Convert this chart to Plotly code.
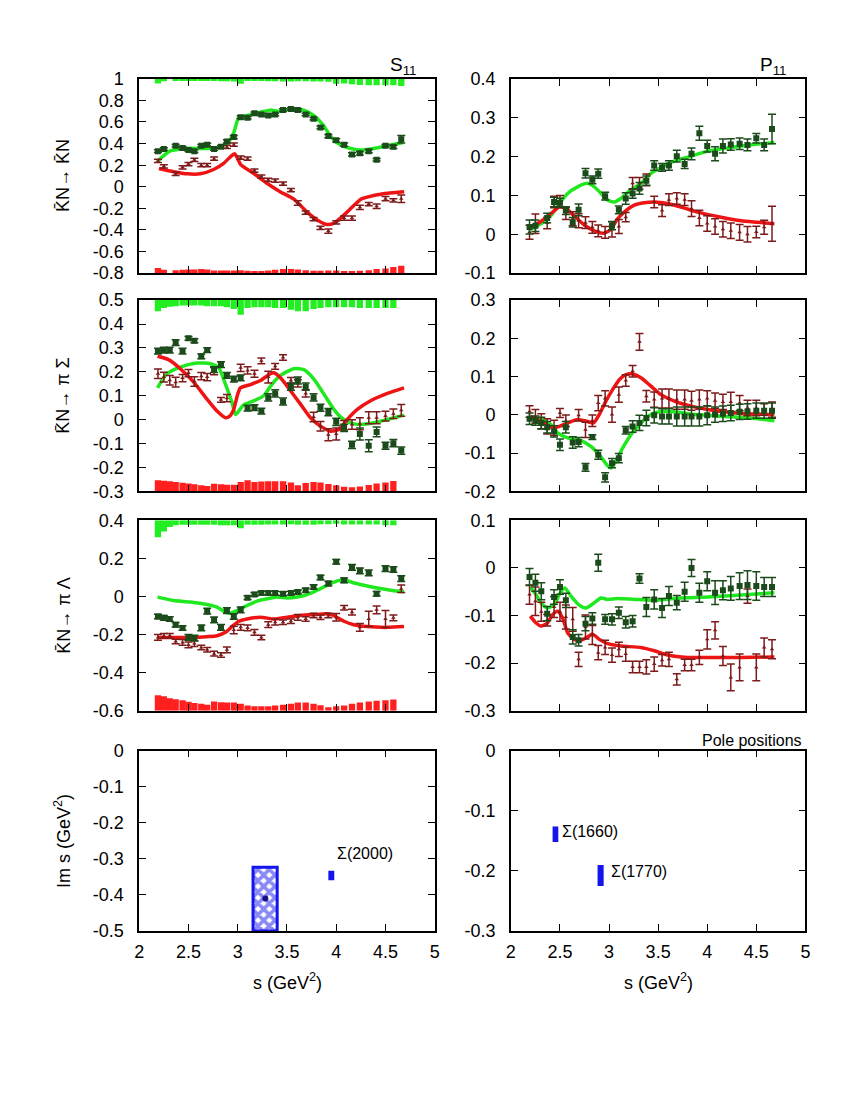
import plotly.graph_objects as go

W, H = 850, 1100

# ---------------- data ----------------
S = [2.19, 2.25, 2.31, 2.37, 2.44, 2.50, 2.56, 2.63, 2.69, 2.76, 2.83, 2.89, 2.96, 3.03, 3.10, 3.17, 3.24, 3.31,
     3.38, 3.46, 3.54, 3.61, 3.69, 3.77, 3.84, 3.92, 4.00, 4.08, 4.16, 4.24, 4.33, 4.41, 4.50, 4.58, 4.66]

# Row 1 left: KN -> KN, S11
L1_re = [0.33, 0.35, None, 0.38, 0.36, 0.34, 0.33, 0.38, 0.39, 0.35, 0.37, 0.42, 0.46, 0.645, 0.64, 0.68, 0.67, 0.66,
         0.67, 0.71, 0.72, 0.71, 0.67, 0.63, 0.55, 0.47, 0.43, 0.39, 0.30, 0.31, 0.33, 0.25, 0.38, 0.37, 0.44]
L1_re_err = [0.012, 0.012, 0, 0.012, 0.012, 0.012, 0.012, 0.012, 0.012, 0.012, 0.012, 0.015, 0.015, 0.012, 0.012,
             0.012, 0.012, 0.012, 0.012, 0.012, 0.012, 0.012, 0.012, 0.012, 0.012, 0.015, 0.015, 0.015, 0.015, 0.015,
             0.015, 0.012, 0.012, 0.015, 0.035]
L1_im = [0.24, 0.19, None, 0.12, 0.18, 0.21, 0.25, 0.20, 0.20, 0.26, None, 0.37, 0.39, 0.27, 0.26, 0.15, 0.095, 0.064,
         0.058, 0.03, -0.03, -0.15, -0.24, -0.30, -0.38, -0.41, -0.33, -0.29, -0.29, -0.19, -0.16, -0.18, -0.11,
         -0.125, -0.11]
L1_im_err = [0.015, 0.015, 0, 0.015, 0.015, 0.015, 0.015, 0.015, 0.015, 0.015, 0, 0.015, 0.015, 0.015, 0.015, 0.015,
             0.015, 0.015, 0.015, 0.015, 0.015, 0.02, 0.015, 0.015, 0.015, 0.02, 0.015, 0.02, 0.02, 0.02, 0.015, 0.02,
             0.02, 0.015, 0.035]
L1_fit_re_x = [2.19, 2.31, 2.48, 2.69, 2.82, 2.91, 2.96, 3.01, 3.10, 3.23, 3.33, 3.43, 3.54, 3.67, 3.77, 3.87, 3.94,
               4.04, 4.15, 4.25, 4.38, 4.52, 4.68]
L1_fit_re_y = [0.24, 0.33, 0.355, 0.355, 0.37, 0.42, 0.50, 0.64, 0.66, 0.69, 0.71, 0.70, 0.72, 0.71, 0.66, 0.57, 0.47,
               0.39, 0.355, 0.34, 0.355, 0.38, 0.41]
L1_fit_im_x = [2.20, 2.35, 2.485, 2.62, 2.755, 2.86, 2.94, 2.97, 3.01, 3.03, 3.16, 3.30, 3.43, 3.57, 3.705, 3.81,
               3.91, 3.98, 4.11, 4.25, 4.38, 4.52, 4.69]
L1_fit_im_y = [0.17, 0.14, 0.12, 0.12, 0.16, 0.22, 0.29, 0.305, 0.24, 0.205, 0.125, 0.03, -0.045, -0.115, -0.235,
               -0.31, -0.35, -0.335, -0.235, -0.115, -0.08, -0.06, -0.045]
L1_bar_top = [0.044, 0.022, None, 0.02, 0.02, 0.02, 0.02, 0.02, 0.02, 0.02, 0.022, 0.022, 0.025, 0.045, 0.02, 0.02,
              0.02, 0.022, 0.022, 0.025, 0.025, 0.022, 0.022, 0.025, 0.025, 0.028, 0.045, 0.044, 0.05, 0.057, 0.06,
              0.06, 0.06, 0.06, 0.066]
L1_bar_bot = [0.047, 0.031, None, 0.028, 0.031, 0.035, 0.035, 0.038, 0.035, 0.025, 0.025, 0.025, 0.025, 0.028,
              0.022, 0.019, 0.019, 0.025, 0.031, 0.038, 0.038, 0.035, 0.028, 0.022, 0.022, 0.025, 0.025, 0.019, 0.019,
              0.022, 0.028, 0.038, 0.044, 0.057, 0.069]

# Row 1 right: KN -> KN, P11
R1_re = [0.019, 0.022, None, 0.042, 0.083, 0.081, 0.061, 0.031, 0.063, 0.157, 0.14, 0.156, 0.098, 0.022, 0.063, 0.092,
         0.105, 0.118, 0.138, 0.177, 0.172, 0.177, 0.201, 0.181, 0.207, 0.26, 0.227, 0.207, 0.227, 0.231, 0.233, 0.23,
         0.247, 0.23, 0.271]
R1_re_err = [0.018, 0.015, 0, 0.012, 0.012, 0.012, 0.01, 0.012, 0.015, 0.012, 0.01, 0.012, 0.01, 0.01, 0.01, 0.015,
             0.012, 0.015, 0.012, 0.012, 0.01, 0.012, 0.015, 0.012, 0.015, 0.018, 0.015, 0.018, 0.018, 0.015, 0.015,
             0.015, 0.012, 0.015, 0.038]
R1_im = [0.005, 0.027, None, 0.029, 0.083, 0.085, 0.053, 0.04, 0.035, 0.03, 0.018, 0.009, 0.005, 0.013, 0.02, 0.044,
         0.131, 0.131, 0.14, 0.083, 0.061, 0.089, 0.092, 0.089, 0.066, 0.042, 0.028, 0.02, 0.013, 0.009, 0.005, 0.0,
         0.006, 0.018, 0.027]
R1_im_err = [0.018, 0.025, 0, 0.015, 0.015, 0.015, 0.015, 0.018, 0.018, 0.015, 0.015, 0.015, 0.015, 0.02, 0.018,
             0.012, 0.015, 0.015, 0.015, 0.015, 0.015, 0.015, 0.015, 0.015, 0.02, 0.02, 0.02, 0.02, 0.02, 0.02, 0.02,
             0.02, 0.015, 0.018, 0.045]
R1_fit_re_x = [2.197, 2.306, 2.408, 2.493, 2.578, 2.68, 2.78, 2.85, 2.92, 2.985, 3.053, 3.12, 3.22, 3.325, 3.427,
               3.53, 3.665, 3.835, 4.005, 4.175, 4.345, 4.514, 4.684]
R1_fit_re_y = [0.013, 0.027, 0.048, 0.079, 0.105, 0.122, 0.131, 0.122, 0.105, 0.088, 0.083, 0.092, 0.114, 0.131,
               0.157, 0.172, 0.188, 0.201, 0.214, 0.221, 0.227, 0.232, 0.236]
R1_fit_im_x = [2.197, 2.306, 2.408, 2.493, 2.561, 2.646, 2.748, 2.85, 2.951, 3.019, 3.087, 3.172, 3.257, 3.359,
               3.461, 3.597, 3.733, 3.937, 4.141, 4.345, 4.514, 4.684]
R1_fit_im_y = [0.018, 0.033, 0.053, 0.07, 0.066, 0.047, 0.024, 0.009, 0.003, 0.013, 0.04, 0.061, 0.075, 0.081,
               0.083, 0.079, 0.07, 0.055, 0.044, 0.035, 0.031, 0.027]

# Row 2 left: KN -> pi Sigma, S11
L2_re = [0.287, 0.291, 0.291, 0.322, 0.287, 0.34, 0.33, 0.265, 0.291, 0.209, 0.23, 0.185, 0.17, 0.175, 0.048, 0.05,
         0.036, 0.093, 0.11, 0.076, 0.138, 0.164, 0.138, 0.093, 0.05, 0.032, -0.009, -0.034, -0.105, -0.06, -0.109,
         -0.051, -0.109, -0.098, -0.129]
L2_re_err = [0.012, 0.012, 0.012, 0.012, 0.012, 0.008, 0.008, 0.01, 0.01, 0.012, 0.012, 0.012, 0.012, 0.012, 0.012,
             0.012, 0.012, 0.015, 0.015, 0.015, 0.015, 0.015, 0.015, 0.015, 0.015, 0.015, 0.015, 0.015, 0.015, 0.025,
             0.025, 0.02, 0.015, 0.015, 0.015]
L2_im = [0.192, 0.178, 0.165, 0.157, 0.174, 0.195, 0.16, 0.182, 0.178, 0.203, 0.083, 0.09, None, 0.217, 0.206, 0.192,
         0.246, 0.178, 0.223, 0.26, 0.164, 0.152, 0.11, 0.011, -0.027, -0.063, -0.06, -0.023, -0.02, -0.017, 0.008,
         0.008, 0.015, 0.025, 0.039]
L2_im_err = [0.02, 0.02, 0.02, 0.02, 0.015, 0.015, 0.02, 0.015, 0.015, 0.015, 0.01, 0.015, 0, 0.015, 0.015, 0.015,
             0.012, 0.025, 0.012, 0.012, 0.012, 0.015, 0.015, 0.02, 0.02, 0.025, 0.025, 0.02, 0.02, 0.025, 0.025,
             0.025, 0.02, 0.02, 0.025]
L2_fit_re_x = [2.186, 2.28, 2.417, 2.586, 2.722, 2.807, 2.875, 2.942, 2.976, 3.01, 3.06, 3.163, 3.264, 3.349, 3.434,
               3.569, 3.671, 3.773, 3.875, 3.976, 4.061, 4.146, 4.247, 4.383, 4.519, 4.688]
L2_fit_re_y = [0.133, 0.192, 0.22, 0.237, 0.234, 0.217, 0.149, 0.072, 0.022, 0.036, 0.062, 0.079, 0.1, 0.149, 0.185,
               0.213, 0.209, 0.17, 0.107, 0.043, 0.005, -0.013, -0.02, -0.013, 0.001, 0.019]
L2_fit_im_x = [2.186, 2.298, 2.417, 2.553, 2.688, 2.79, 2.875, 2.919, 2.959, 3.0, 3.027, 3.129, 3.231, 3.332, 3.366,
               3.434, 3.536, 3.637, 3.739, 3.841, 3.942, 4.027, 4.112, 4.214, 4.349, 4.519, 4.688]
L2_fit_im_y = [0.265, 0.251, 0.213, 0.157, 0.086, 0.036, 0.008, 0.015, 0.043, 0.107, 0.133, 0.147, 0.164, 0.192,
               0.196, 0.175, 0.121, 0.065, 0.008, -0.027, -0.048, -0.041, 0.001, 0.043, 0.079, 0.11, 0.133]
L2_bar_top = [0.047, 0.033, 0.028, 0.026, 0.023, 0.023, 0.023, 0.023, 0.026, 0.026, 0.026, 0.03, 0.037, 0.061, 0.033,
              0.03, 0.03, 0.03, 0.033, 0.033, 0.04, 0.047, 0.047, 0.037, 0.033, 0.03, 0.03, 0.03, 0.03, 0.033, 0.033,
              0.033, 0.033, 0.033, None]
L2_bar_bot = [0.047, 0.045, 0.043, 0.040, 0.036, 0.033, 0.030, 0.026, 0.023, 0.032, 0.030, 0.028, 0.028, 0.040,
              0.047, 0.040, 0.042, 0.043, 0.043, 0.043, 0.038, 0.026, 0.035, 0.040, 0.037, 0.031, 0.026, 0.020, 0.018,
              0.021, 0.027, 0.033, 0.038, 0.044, None]

# Row 2 right: KN -> pi Sigma, P11
R2_re = [-0.01, -0.015, -0.021, -0.032, -0.043, -0.078, -0.032, -0.072, -0.071, -0.137, -0.058, -0.104, -0.163,
         -0.126, -0.113, -0.04, -0.03, -0.021, -0.008, -0.001, -0.004, -0.004, -0.004, -0.004, -0.004, -0.004,
         -0.001, 0.001, 0.003, 0.005, 0.008, 0.009, 0.011, 0.011, 0.011]
R2_re_err = [0.015, 0.012, 0.015, 0.015, 0.015, 0.015, 0.015, 0.015, 0.012, 0.01, 0.006, 0.012, 0.012, 0.012, 0.012,
             0.01, 0.015, 0.02, 0.02, 0.02, 0.02, 0.02, 0.025, 0.025, 0.025, 0.025, 0.025, 0.02, 0.02, 0.02, 0.02,
             0.02, 0.02, 0.02, 0.02]
R2_im = [0.009, -0.004, -0.017, -0.03, -0.034, 0.005, -0.015, None, -0.001, -0.039, -0.015, 0.031, 0.043, 0.001,
         0.053, 0.09, 0.114, 0.191, 0.049, 0.04, 0.043, 0.043, 0.04, 0.04, 0.037, 0.04, 0.043, 0.037, 0.034, 0.034,
         0.031, 0.018, 0.018, 0.014, 0.014]
R2_im_err = [0.015, 0.018, 0.02, 0.02, 0.02, 0.012, 0.015, 0, 0.015, 0.02, 0.015, 0.02, 0.02, 0.02, 0.02, 0.015,
             0.015, 0.022, 0.015, 0.02, 0.025, 0.025, 0.025, 0.025, 0.025, 0.025, 0.02, 0.02, 0.02, 0.025, 0.02,
             0.02, 0.02, 0.015, 0.02]
R2_fit_re_x = [2.197, 2.306, 2.408, 2.476, 2.578, 2.714, 2.815, 2.9, 2.985, 3.019, 3.07, 3.138, 3.223, 3.325, 3.427,
               3.529, 3.665, 3.835, 4.005, 4.175, 4.345, 4.514, 4.684]
R2_fit_re_y = [-0.008, -0.012, -0.025, -0.047, -0.06, -0.067, -0.082, -0.104, -0.133, -0.139, -0.121, -0.087,
               -0.052, -0.021, 0.001, 0.009, 0.008, 0.002, -0.001, -0.004, -0.006, -0.01, -0.015]
R2_fit_im_x = [2.197, 2.306, 2.425, 2.493, 2.578, 2.68, 2.78, 2.843, 2.9, 2.968, 3.036, 3.104, 3.172, 3.24, 3.325,
               3.427, 3.529, 3.665, 3.835, 4.005, 4.175, 4.345, 4.684]
R2_fit_im_y = [-0.004, -0.017, -0.034, -0.03, -0.021, -0.012, -0.017, -0.021, 0.001, 0.036, 0.066, 0.092, 0.105,
               0.107, 0.097, 0.075, 0.053, 0.036, 0.023, 0.014, 0.008, 0.004, 0.001]

# Row 3 left: KN -> pi Lambda, S11
L3_re = [-0.105, -0.112, -0.118, -0.148, -0.165, -0.215, -0.218, -0.165, -0.077, -0.123, -0.162, -0.074, -0.105,
         -0.07, -0.006, 0.011, 0.018, 0.018, 0.018, 0.015, 0.018, 0.024, 0.033, 0.05, 0.1, 0.068, 0.183, 0.085, 0.153,
         0.135, 0.124, 0.015, 0.147, 0.142, 0.094]
L3_re_err = [0.012, 0.012, 0.012, 0.012, 0.012, 0.015, 0.015, 0.015, 0.015, 0.015, 0.015, 0.015, 0.015, 0.015, 0.01,
             0.01, 0.01, 0.01, 0.01, 0.01, 0.01, 0.01, 0.01, 0.012, 0.012, 0.012, 0.012, 0.012, 0.015, 0.015, 0.015,
             0.012, 0.015, 0.015, 0.015]
L3_im = [-0.215, -0.206, -0.206, -0.236, -0.241, -0.254, -0.247, -0.268, -0.28, -0.3, -0.307, -0.28, -0.176, -0.162,
         -0.165, -0.188, -0.215, -0.148, -0.135, -0.135, -0.13, -0.109, -0.118, -0.1, -0.109, -0.1, -0.109, -0.059,
         -0.082, -0.162, -0.118, -0.07, -0.118, -0.112, 0.041]
L3_im_err = [0.015, 0.012, 0.012, 0.012, 0.015, 0.015, 0.015, 0.012, 0.012, 0.012, 0.012, 0.015, 0.02, 0.015, 0.015,
             0.015, 0.012, 0.015, 0.015, 0.012, 0.012, 0.015, 0.012, 0.012, 0.012, 0.012, 0.02, 0.012, 0.015, 0.02,
             0.04, 0.02, 0.045, 0.015, 0.02]
L3_fit_re_x = [2.186, 2.349, 2.519, 2.688, 2.79, 2.875, 2.925, 2.993, 3.095, 3.197, 3.298, 3.4, 3.502, 3.603, 3.705,
               3.807, 3.908, 4.01, 4.095, 4.18, 4.281, 4.417, 4.553, 4.688]
L3_fit_re_y = [-0.003, -0.021, -0.029, -0.042, -0.056, -0.082, -0.088, -0.074, -0.047, -0.024, -0.012, -0.003,
               -0.008, -0.003, 0.010, 0.033, 0.059, 0.082, 0.086, 0.071, 0.059, 0.045, 0.033, 0.024]
L3_fit_im_x = [2.186, 2.349, 2.519, 2.688, 2.79, 2.875, 2.942, 3.01, 3.095, 3.231, 3.366, 3.502, 3.637, 3.773, 3.908,
               3.976, 4.078, 4.18, 4.315, 4.519, 4.688]
L3_fit_im_y = [-0.215, -0.215, -0.215, -0.211, -0.206, -0.188, -0.158, -0.13, -0.118, -0.109, -0.118, -0.109, -0.1,
               -0.095, -0.091, -0.1, -0.13, -0.148, -0.158, -0.162, -0.158]
L3_bar_top = [0.089, 0.058, 0.035, 0.025, 0.023, 0.023, 0.023, 0.023, 0.023, 0.023, 0.025, 0.025, 0.025, 0.041,
              0.023, 0.023, 0.023, 0.022, 0.022, 0.022, 0.02, 0.023, 0.023, 0.023, 0.02, 0.02, 0.018, 0.022, 0.022,
              0.022, 0.022, 0.022, 0.025, 0.025, None]
L3_bar_bot = [0.081, 0.076, 0.066, 0.061, 0.055, 0.047, 0.041, 0.037, 0.032, 0.049, 0.045, 0.044, 0.043, 0.037,
              0.027, 0.024, 0.023, 0.024, 0.027, 0.032, 0.037, 0.044, 0.044, 0.037, 0.029, 0.019, 0.023, 0.028, 0.037,
              0.044, 0.049, 0.053, 0.055, 0.059, None]

# Row 3 right: KN -> pi Lambda, P11
R3_re = [-0.019, -0.031, -0.049, -0.096, -0.061, -0.04, -0.068, -0.145, -0.152, -0.117, -0.106, 0.011, -0.108,
         -0.108, -0.094, -0.114, -0.112, -0.022, -0.082, -0.066, -0.084, -0.059, -0.073, -0.05, 0.0, -0.052, -0.028,
         -0.052, -0.047, -0.043, -0.038, -0.036, -0.038, -0.04, -0.04]
R3_re_err = [0.018, 0.018, 0.018, 0.015, 0.015, 0.015, 0.015, 0.015, 0.012, 0.015, 0.012, 0.018, 0.01, 0.012, 0.012,
             0.012, 0.012, 0.01, 0.02, 0.02, 0.02, 0.02, 0.015, 0.02, 0.018, 0.02, 0.02, 0.025, 0.02, 0.025, 0.028,
             0.03, 0.03, 0.02, 0.02]
R3_im = [-0.056, -0.07, -0.092, -0.11, -0.082, -0.092, -0.103, -0.108, -0.192, -0.124, -0.141, -0.178, -0.167,
         -0.183, -0.171, -0.181, -0.208, -0.208, -0.208, -0.202, -0.194, -0.192, -0.234, -0.204, -0.204, -0.188,
         -0.15, -0.131, -0.185, -0.23, -0.209, -0.059, -0.209, -0.167, -0.171]
R3_im_err = [0.02, 0.03, 0.02, 0.012, 0.022, 0.02, 0.025, 0.025, 0.015, 0.025, 0.02, 0.015, 0.015, 0.015, 0.015,
             0.015, 0.012, 0.012, 0.015, 0.015, 0.012, 0.015, 0.012, 0.012, 0.012, 0.015, 0.02, 0.018, 0.02, 0.028,
             0.028, 0.015, 0.028, 0.02, 0.02]
R3_fit_re_x = [2.197, 2.255, 2.306, 2.374, 2.442, 2.503, 2.55, 2.612, 2.697, 2.765, 2.85, 2.917, 2.985, 3.087, 3.257,
               3.461, 3.665, 4.005, 4.345, 4.684]
R3_fit_re_y = [-0.04, -0.056, -0.073, -0.084, -0.077, -0.052, -0.042, -0.059, -0.078, -0.084, -0.073, -0.063,
               -0.066, -0.064, -0.066, -0.068, -0.064, -0.061, -0.057, -0.052]
R3_fit_im_x = [2.197, 2.255, 2.306, 2.367, 2.425, 2.476, 2.527, 2.578, 2.646, 2.714, 2.782, 2.832, 2.9, 2.985, 3.121,
               3.325, 3.461, 3.597, 3.801, 4.005, 4.345, 4.684]
R3_fit_im_y = [-0.101, -0.115, -0.122, -0.117, -0.098, -0.091, -0.105, -0.136, -0.15, -0.152, -0.145, -0.139, -0.15,
               -0.159, -0.164, -0.167, -0.174, -0.183, -0.188, -0.188, -0.188, -0.187]

# Row 4: pole positions (Re s, Im s ranges)
POLE_L_HATCH_RE = [3.278]
POLE_L_HATCH_W = [0.245]
POLE_L_HATCH_LO = [-0.5]
POLE_L_HATCH_HI = [-0.323]
POLE_L_DOT_RE = [3.28]
POLE_L_DOT_IM = [-0.41]
POLE_L_BOX_RE = [3.95]
POLE_L_BOX_W = [0.06]
POLE_L_BOX_LO = [-0.359]
POLE_L_BOX_HI = [-0.333]
POLE_L_LABELS = ["Σ(2000)"]
POLE_L_LABEL_X = [3.99]
POLE_L_LABEL_Y = [-0.284]

POLE_R_BOX_RE = [2.454, 2.914]
POLE_R_BOX_W = [0.058, 0.062]
POLE_R_BOX_LO = [-0.152, -0.225]
POLE_R_BOX_HI = [-0.126, -0.19]
POLE_R_LABELS = ["Σ(1660)", "Σ(1770)"]
POLE_R_LABEL_X = [2.5, 3.0]
POLE_R_LABEL_Y = [-0.134, -0.201]

X_TICKS = [2, 2.5, 3, 3.5, 4, 4.5, 5]
Y_TICKS = {
    1: [-0.8, -0.6, -0.4, -0.2, 0, 0.2, 0.4, 0.6, 0.8, 1],
    2: [-0.1, 0, 0.1, 0.2, 0.3, 0.4],
    3: [-0.3, -0.2, -0.1, 0, 0.1, 0.2, 0.3, 0.4, 0.5],
    4: [-0.2, -0.1, 0, 0.1, 0.2, 0.3],
    5: [-0.6, -0.4, -0.2, 0, 0.2, 0.4],
    6: [-0.3, -0.2, -0.1, 0, 0.1],
    7: [-0.5, -0.4, -0.3, -0.2, -0.1, 0],
    8: [-0.3, -0.2, -0.1, 0],
}
Y_RANGES = {1: [-0.8, 1], 2: [-0.1, 0.4], 3: [-0.3, 0.5], 4: [-0.2, 0.3],
            5: [-0.6, 0.4], 6: [-0.3, 0.1], 7: [-0.5, 0], 8: [-0.3, 0]}

ROW_TITLES = ["K\u0304N\u2192 K\u0304N", "K\u0304N\u2192 π Σ", "K\u0304N\u2192 π Λ", "Im s (GeV<sup>2</sup>)"]

# ---------------- style ----------------
FONT = "Liberation Sans, Arial, Helvetica, sans-serif"
C_GREEN_LINE = "#1fe81f"
C_RED_LINE = "#ee1414"
C_GREEN_BAR = "#22ee22"
C_RED_BAR = "#ff1f1f"
C_GREEN_PT = "#1b4a1b"
C_RED_PT = "#7d1a1a"
C_BLUE = "#1414ee"


# target pixel (as seen in the photographed page) -> paper fraction
def px_x(p):
    return ((p - 13.0) / 0.9865) / W


def px_y(p):
    return 1 - ((p - 14.0) / 0.985) / H


XDOM = {"L": [px_x(139), px_x(434)], "R": [px_x(510), px_x(804)]}
ROWPX = [(75, 270), (297, 489), (518, 709), (749, 930)]
YDOM = [[px_y(b), px_y(t)] for (t, b) in ROWPX]

fig = go.Figure()


def ax(i):
    return ("x" if i == 1 else f"x{i}"), ("y" if i == 1 else f"y{i}")


panels = [
    (1, L1_re, L1_re_err, L1_im, L1_im_err, (L1_fit_re_x, L1_fit_re_y), (L1_fit_im_x, L1_fit_im_y),
     L1_bar_top, L1_bar_bot),
    (2, R1_re, R1_re_err, R1_im, R1_im_err, (R1_fit_re_x, R1_fit_re_y), (R1_fit_im_x, R1_fit_im_y), None, None),
    (3, L2_re, L2_re_err, L2_im, L2_im_err, (L2_fit_re_x, L2_fit_re_y), (L2_fit_im_x, L2_fit_im_y),
     L2_bar_top, L2_bar_bot),
    (4, R2_re, R2_re_err, R2_im, R2_im_err, (R2_fit_re_x, R2_fit_re_y), (R2_fit_im_x, R2_fit_im_y), None, None),
    (5, L3_re, L3_re_err, L3_im, L3_im_err, (L3_fit_re_x, L3_fit_re_y), (L3_fit_im_x, L3_fit_im_y),
     L3_bar_top, L3_bar_bot),
    (6, R3_re, R3_re_err, R3_im, R3_im_err, (R3_fit_re_x, R3_fit_re_y), (R3_fit_im_x, R3_fit_im_y), None, None),
]

for (i, re, re_err, im, im_err, fre, fim, btop, bbot) in panels:
    xa, ya = ax(i)
    lo, hi = Y_RANGES[i]
    if btop is not None:
        fig.add_trace(go.Bar(x=S, y=[(-v if v is not None else None) for v in btop], base=hi, width=0.064,
                             marker=dict(color=C_GREEN_BAR, line=dict(width=0)), xaxis=xa, yaxis=ya))
        fig.add_trace(go.Bar(x=S, y=bbot, base=lo, width=0.064,
                             marker=dict(color=C_RED_BAR, line=dict(width=0)), xaxis=xa, yaxis=ya))
    fig.add_trace(go.Scatter(x=fre[0], y=fre[1], mode="lines", line=dict(color=C_GREEN_LINE, width=3.5,
                                                                          shape="spline", smoothing=0.6),
                             xaxis=xa, yaxis=ya))
    fig.add_trace(go.Scatter(x=fim[0], y=fim[1], mode="lines", line=dict(color=C_RED_LINE, width=3.5,
                                                                          shape="spline", smoothing=0.6),
                             xaxis=xa, yaxis=ya))
    fig.add_trace(go.Scatter(x=S, y=im, mode="markers",
                             marker=dict(symbol="triangle-up", size=4, color=C_RED_PT),
                             error_y=dict(type="data", array=im_err, color=C_RED_PT, thickness=1.5, width=4),
                             xaxis=xa, yaxis=ya))
    fig.add_trace(go.Scatter(x=S, y=re, mode="markers",
                             marker=dict(symbol="square", size=6, color=C_GREEN_PT),
                             error_y=dict(type="data", array=re_err, color=C_GREEN_PT, thickness=1.5, width=4),
                             xaxis=xa, yaxis=ya))

# Pole panels
xa, ya = ax(7)
fig.add_trace(go.Bar(x=POLE_L_HATCH_RE, y=[h - l for h, l in zip(POLE_L_HATCH_HI, POLE_L_HATCH_LO)],
                     base=POLE_L_HATCH_LO, width=POLE_L_HATCH_W,
                     marker=dict(color="white", line=dict(color=C_BLUE, width=3),
                                 pattern=dict(shape="x", fgcolor=C_BLUE, bgcolor="white", size=8, solidity=0.7)),
                     xaxis=xa, yaxis=ya))
fig.add_trace(go.Bar(x=POLE_L_BOX_RE, y=[h - l for h, l in zip(POLE_L_BOX_HI, POLE_L_BOX_LO)],
                     base=POLE_L_BOX_LO, width=POLE_L_BOX_W,
                     marker=dict(color=C_BLUE, line=dict(width=0)), xaxis=xa, yaxis=ya))
fig.add_trace(go.Scatter(x=POLE_L_DOT_RE, y=POLE_L_DOT_IM, mode="markers",
                         marker=dict(color="#101080", size=6), xaxis=xa, yaxis=ya))
xa, ya = ax(8)
fig.add_trace(go.Bar(x=POLE_R_BOX_RE, y=[h - l for h, l in zip(POLE_R_BOX_HI, POLE_R_BOX_LO)],
                     base=POLE_R_BOX_LO, width=POLE_R_BOX_W,
                     marker=dict(color=C_BLUE, line=dict(width=0)), xaxis=xa, yaxis=ya))

layout = dict(width=W, height=H, margin=dict(l=0, r=0, t=0, b=0), showlegend=False,
              paper_bgcolor="white", plot_bgcolor="white", barmode="overlay",
              font=dict(family=FONT, size=18, color="black"))

for i in range(1, 9):
    col = "L" if i % 2 == 1 else "R"
    row = (i - 1) // 2
    xk = "xaxis" if i == 1 else f"xaxis{i}"
    yk = "yaxis" if i == 1 else f"yaxis{i}"
    xa, ya = ax(i)
    bottom = row == 3
    layout[xk] = dict(domain=XDOM[col], range=[2, 5], anchor=ya, tickvals=X_TICKS,
                      ticktext=[f"{v:g}" for v in X_TICKS], showticklabels=bottom,
                      ticks="inside", ticklen=7, tickwidth=1, tickcolor="black", mirror="allticks",
                      showline=True, linecolor="black", linewidth=1.5, showgrid=False, zeroline=False,
                      tickfont=dict(size=18), ticklabelstandoff=4)
    layout[yk] = dict(domain=YDOM[row], range=Y_RANGES[i], anchor=xa, tickvals=Y_TICKS[i],
                      ticktext=[f"{v:g}" for v in Y_TICKS[i]],
                      ticks="inside", ticklen=7, tickwidth=1, tickcolor="black", mirror="allticks",
                      showline=True, linecolor="black", linewidth=1.5, showgrid=False, zeroline=False,
                      tickfont=dict(size=18), ticklabelstandoff=10)

annotations = []
for r, title in enumerate(ROW_TITLES):
    t, b = ROWPX[r]
    annotations.append(dict(text=title, x=px_x(63), y=px_y((t + b) / 2), xref="paper", yref="paper",
                            textangle=-90, showarrow=False, font=dict(size=18), xanchor="center",
                            yanchor="middle"))
annotations.append(dict(text="S<sub>11</sub>", x=px_x(418), y=px_y(62), xref="paper", yref="paper",
                        showarrow=False, xanchor="right", yanchor="middle", font=dict(size=19)))
annotations.append(dict(text="P<sub>11</sub>", x=px_x(788), y=px_y(62), xref="paper", yref="paper",
                        showarrow=False, xanchor="right", yanchor="middle", font=dict(size=19)))
annotations.append(dict(text="Pole positions", x=px_x(803), y=px_y(739), xref="paper", yref="paper",
                        showarrow=False, xanchor="right", yanchor="middle", font=dict(size=16)))
for cx in (287, 657):
    annotations.append(dict(text="s (GeV<sup>2</sup>)", x=px_x(cx), y=px_y(981), xref="paper", yref="paper",
                            showarrow=False, xanchor="center", yanchor="middle", font=dict(size=18)))
for txt, lx, ly in zip(POLE_L_LABELS, POLE_L_LABEL_X, POLE_L_LABEL_Y):
    annotations.append(dict(text=txt, x=lx, y=ly, xref="x7", yref="y7", showarrow=False,
                            xanchor="left", yanchor="middle", font=dict(size=16)))
for txt, lx, ly in zip(POLE_R_LABELS, POLE_R_LABEL_X, POLE_R_LABEL_Y):
    annotations.append(dict(text=txt, x=lx, y=ly, xref="x8", yref="y8", showarrow=False,
                            xanchor="left", yanchor="middle", font=dict(size=16)))
layout["annotations"] = annotations

fig.update_layout(**layout)
fig.write_html("out.html")
